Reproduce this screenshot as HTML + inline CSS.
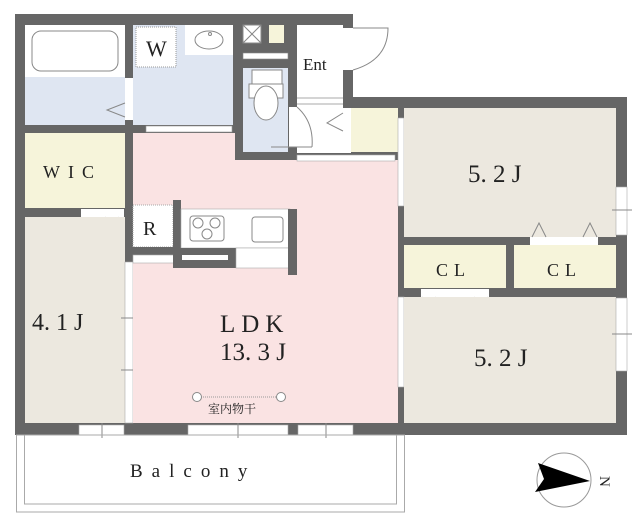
<!DOCTYPE html>
<html><head><meta charset="utf-8"><style>
html,body{margin:0;padding:0;background:#fff;width:640px;height:523px;overflow:hidden}
svg{display:block}
text{font-family:"Liberation Serif","Noto Serif CJK SC",serif;fill:#222}
</style></head><body>
<svg width="640" height="523" viewBox="0 0 640 523" xmlns="http://www.w3.org/2000/svg">
<!-- walls base -->
<rect x="15" y="14" width="338" height="421" fill="#666"/>
<rect x="343" y="97" width="284" height="338" fill="#666"/>
<!-- bath -->
<rect x="25" y="25" width="100" height="52" fill="#fff"/>
<rect x="25" y="77" width="100" height="48" fill="#dfe6f2"/>
<rect x="32" y="31" width="86" height="40" rx="9" fill="#fff" stroke="#888"/>
<rect x="125" y="78" width="8" height="42" fill="#fff"/>
<polyline points="125,103 107,110 125,117" fill="none" stroke="#888"/>
<!-- W -->
<rect x="133" y="25" width="100" height="100" fill="#dfe6f2"/>
<rect x="185" y="25" width="48" height="30" fill="#fff"/>
<ellipse cx="209" cy="40" rx="14" ry="9" fill="#fff" stroke="#888"/>
<circle cx="210" cy="34" r="1.5" fill="none" stroke="#888"/>
<rect x="136" y="27" width="40" height="40" fill="#fff" stroke="#999" stroke-dasharray="1,1"/>
<text x="146" y="56" font-size="22">W</text>
<rect x="146" y="126" width="86" height="6" fill="#fff" stroke="#999" stroke-width="0.6"/>
<!-- small boxes top -->
<rect x="243" y="25" width="18" height="18" fill="#fff" stroke="#888"/>
<line x1="243" y1="25" x2="261" y2="43" stroke="#888"/><line x1="261" y1="25" x2="243" y2="43" stroke="#888"/>
<rect x="269" y="25" width="15" height="18" fill="#f6f4da"/>
<rect x="243" y="53" width="45" height="6" fill="#fff" stroke="#888" stroke-width="0.6"/>
<!-- toilet -->
<rect x="243" y="68" width="45" height="84" fill="#dfe6f2"/>
<rect x="252" y="70" width="30" height="14" fill="#fff" stroke="#888"/>
<rect x="249" y="84" width="34" height="14" fill="#fff" stroke="#888"/>
<ellipse cx="266" cy="103" rx="12" ry="17" fill="#fff" stroke="#888"/>
<!-- Ent -->
<rect x="297" y="25" width="46" height="73" fill="#fff"/>
<rect x="297" y="98" width="46" height="55" fill="#fff"/>
<rect x="343" y="108" width="8" height="45" fill="#fff"/>
<line x1="297" y1="98" x2="343" y2="98" stroke="#aaa"/>
<line x1="297" y1="104" x2="343" y2="104" stroke="#aaa"/>
<rect x="289" y="107" width="8" height="40" fill="#fff"/>
<path d="M297,107 Q314,122 312,147" fill="none" stroke="#888"/>
<line x1="271" y1="147" x2="312" y2="147" stroke="#888"/>
<polyline points="343,113 327,123 343,131" fill="none" stroke="#888"/>
<text x="303" y="70" font-size="17">Ent</text>
<rect x="343" y="28" width="10" height="42" fill="#fff"/>
<path d="M353,28 L388,28 Q388,60 353,70" fill="none" stroke="#888"/>
<rect x="351" y="108" width="47" height="44" fill="#f6f4da"/>
<!-- WIC -->
<rect x="25" y="133" width="100" height="75" fill="#f6f4da"/>
<text x="43" y="178" font-size="18" letter-spacing="8">WIC</text>
<rect x="81" y="209" width="43" height="8" fill="#fff"/>
<polyline points="105,217 112,234 119,217" fill="none" stroke="#888"/>
<!-- 4.1J -->
<rect x="25" y="217" width="100" height="206" fill="#ece8df"/>
<text x="32" y="330" font-size="24">4. 1 J</text>
<rect x="125" y="262" width="8" height="161" fill="#fff" stroke="#aaa" stroke-width="0.6"/>
<line x1="121" y1="318" x2="135" y2="318" stroke="#888"/><line x1="121" y1="370" x2="135" y2="370" stroke="#888"/>
<!-- LDK -->
<path d="M133,133 L235,133 L235,160 L398,160 L398,423 L133,423 Z" fill="#fae3e3"/>
<rect x="297" y="155" width="98" height="6" fill="#fff" stroke="#aaa" stroke-width="0.6"/>
<!-- kitchen -->
<rect x="133" y="205" width="40" height="42" fill="#fff" stroke="#aaa" stroke-dasharray="1,1"/>
<text x="143" y="235" font-size="20">R</text>
<rect x="125" y="247" width="48" height="8" fill="#666"/>
<rect x="133" y="255" width="42" height="8" fill="#fff" stroke="#aaa" stroke-width="0.6"/>
<rect x="173" y="200" width="8" height="68" fill="#666"/>
<rect x="181" y="209" width="109" height="39" fill="#fff" stroke="#aaa" stroke-width="0.6"/>
<rect x="190" y="216" width="34" height="25" rx="3" fill="#fff" stroke="#888"/>
<circle cx="198" cy="223" r="5" fill="none" stroke="#888"/><circle cx="215" cy="223" r="5" fill="none" stroke="#888"/><circle cx="207" cy="234" r="5" fill="none" stroke="#888"/>
<rect x="252" y="217" width="31" height="25" rx="3" fill="#fff" stroke="#888"/>
<rect x="173" y="248" width="63" height="20" fill="#666"/>
<rect x="182" y="255" width="46" height="5" fill="#fff"/>
<rect x="236" y="248" width="54" height="20" fill="#fff" stroke="#aaa" stroke-width="0.6"/>
<rect x="288" y="209" width="9" height="66" fill="#666"/>
<text x="220" y="332" font-size="25" letter-spacing="6">LDK</text>
<text x="220" y="360" font-size="25">13. 3 J</text>
<line x1="197" y1="397" x2="281" y2="397" stroke="#999" stroke-dasharray="1,1"/>
<circle cx="197" cy="397" r="4.5" fill="#fff" stroke="#888"/><circle cx="281" cy="397" r="4.5" fill="#fff" stroke="#888"/>
<text x="208" y="413" font-size="12" font-family="Noto Sans CJK JP,sans-serif" fill="#444">室内物干</text>
<!-- right rooms -->
<rect x="398" y="118" width="6" height="88" fill="#fff" stroke="#aaa" stroke-width="0.6"/>
<rect x="404" y="108" width="212" height="129" fill="#ece8df"/>
<text x="468" y="182" font-size="25">5. 2 J</text>
<rect x="530" y="237" width="68" height="8" fill="#fff"/>
<polyline points="532,237 539,223 546,237" fill="none" stroke="#888"/>
<polyline points="583,237 590,223 597,237" fill="none" stroke="#888"/>
<rect x="616" y="187" width="11" height="48" fill="#fff" stroke="#aaa" stroke-width="0.6"/>
<line x1="612" y1="210" x2="632" y2="210" stroke="#888"/>
<rect x="404" y="245" width="102" height="43" fill="#f6f4da"/>
<rect x="514" y="245" width="102" height="43" fill="#f6f4da"/>
<text x="436" y="276" font-size="18" letter-spacing="6">CL</text>
<text x="547" y="276" font-size="18" letter-spacing="6">CL</text>
<rect x="421" y="289" width="68" height="8" fill="#fff"/>
<polyline points="422,297 429,311 436,297" fill="none" stroke="#888"/>
<polyline points="474,297 481,311 488,297" fill="none" stroke="#888"/>
<rect x="398" y="297" width="6" height="90" fill="#fff" stroke="#aaa" stroke-width="0.6"/>
<rect x="404" y="297" width="212" height="126" fill="#ece8df"/>
<text x="474" y="366" font-size="25">5. 2 J</text>
<rect x="616" y="298" width="11" height="73" fill="#fff" stroke="#aaa" stroke-width="0.6"/>
<line x1="612" y1="334" x2="632" y2="334" stroke="#888"/>
<!-- bottom windows -->
<rect x="79" y="425" width="45" height="10" fill="#fff" stroke="#aaa" stroke-width="0.6"/>
<rect x="188" y="425" width="100" height="10" fill="#fff" stroke="#aaa" stroke-width="0.6"/>
<rect x="298" y="425" width="55" height="10" fill="#fff" stroke="#aaa" stroke-width="0.6"/>
<line x1="102" y1="423" x2="102" y2="438" stroke="#888"/><line x1="238" y1="423" x2="238" y2="438" stroke="#888"/><line x1="326" y1="423" x2="326" y2="438" stroke="#888"/>
<!-- balcony -->
<rect x="16.5" y="435" width="388" height="77" fill="none" stroke="#aaa"/>
<rect x="24.5" y="435" width="372" height="69" fill="none" stroke="#aaa"/>
<text x="130" y="477" font-size="19" letter-spacing="9">Balcony</text>
<!-- compass -->
<circle cx="564" cy="480" r="27" fill="#fff" stroke="#999"/>
<polygon points="538,463 590,481 535,492 544,479" fill="#000"/>
<text x="595" y="481" font-size="15" transform="rotate(90 600 481)">N</text>
</svg>
</body></html>
